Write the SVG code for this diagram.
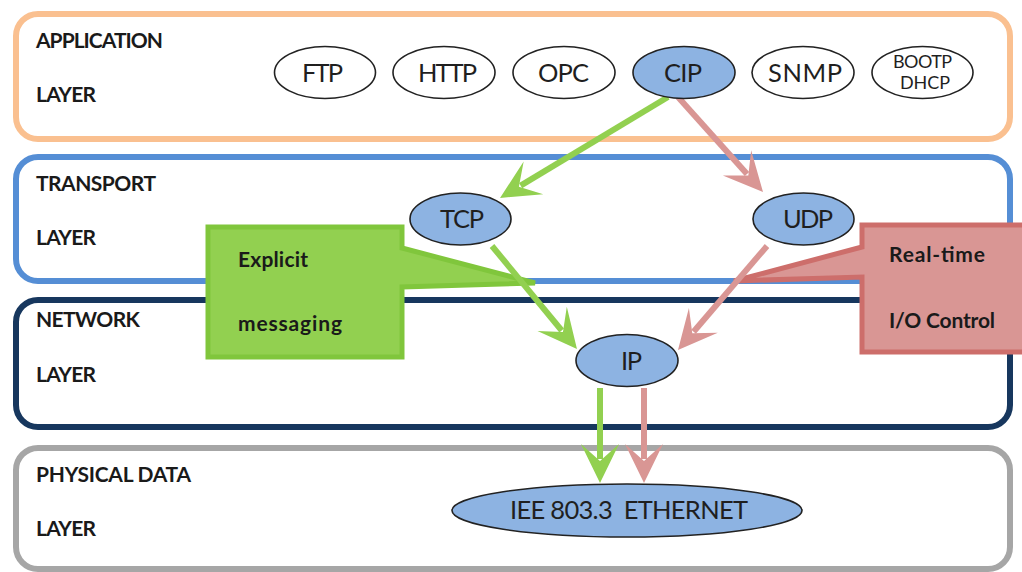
<svg xmlns="http://www.w3.org/2000/svg" width="1022" height="572" viewBox="0 0 1022 572">
  <style>
    .layer { fill: #ffffff; stroke-width: 6; }
    .lbl { font-family: Lato, "Liberation Sans", sans-serif; font-weight: 700; font-size: 21px; fill: #1a1a1a; }
    .proto { stroke: #222222; stroke-width: 1.6; }
    .plain { fill: #ffffff; }
    .blue { fill: #8DB3E2; }
    .ptxt { font-family: Lato, "Liberation Sans", sans-serif; font-size: 25.5px; fill: #1f1f1f; }
    .small { font-size: 18px; }
    .g { stroke: #92D050; stroke-width: 6; fill: none; marker-end: url(#headG); }
    .r { stroke: #D99694; stroke-width: 6; fill: none; marker-end: url(#headR); }
  </style>
  <defs>
    <marker id="headG" viewBox="-20 -22 50 44" refX="0" refY="0" markerWidth="50" markerHeight="44" markerUnits="userSpaceOnUse" orient="auto">
      <path d="M24,0 L-15,-19 L2,0 L-15,19 Z" fill="#92D050"/>
    </marker>
    <marker id="headR" viewBox="-20 -22 50 44" refX="0" refY="0" markerWidth="50" markerHeight="44" markerUnits="userSpaceOnUse" orient="auto">
      <path d="M24,0 L-15,-19 L2,0 L-15,19 Z" fill="#D99694"/>
    </marker>
  </defs>

  <!-- layer bands -->
  <g id="layer-application">
    <rect class="layer" x="16" y="14" width="994" height="125" rx="22" stroke="#FAC090"/>
    <text class="lbl" x="36" y="48" textLength="127">APPLICATION</text>
    <text class="lbl" x="36" y="102" textLength="60">LAYER</text>
  </g>
  <g id="layer-transport">
    <rect class="layer" x="16" y="157" width="994" height="124" rx="22" stroke="#558ED5"/>
    <text class="lbl" x="36" y="191" textLength="120">TRANSPORT</text>
    <text class="lbl" x="36" y="245" textLength="60">LAYER</text>
  </g>
  <g id="layer-network">
    <rect class="layer" x="16" y="300" width="994" height="127" rx="22" stroke="#17375E"/>
    <text class="lbl" x="36" y="327" textLength="104">NETWORK</text>
    <text class="lbl" x="36" y="382" textLength="60">LAYER</text>
  </g>
  <g id="layer-physical">
    <rect class="layer" x="16" y="448" width="994" height="121" rx="22" stroke="#A6A6A6" stroke-width="5"/>
    <text class="lbl" x="36" y="482" textLength="155">PHYSICAL DATA</text>
    <text class="lbl" x="36" y="536" textLength="60">LAYER</text>
  </g>

  <!-- callouts -->
  <g id="callout-explicit">
    <path d="M208,227 H402 V248 L535,283 L402,287 V357 H208 Z" fill="#92D050" stroke="#80C63C" stroke-width="5" stroke-linejoin="miter"/>
    <text class="lbl" x="238" y="267" textLength="70">Explicit</text>
    <text class="lbl" x="238" y="331" textLength="104">messaging</text>
  </g>
  <g id="callout-realtime">
    <path d="M862,225 H1032 V352 H862 V277 L734,281 L862,247 Z" fill="#D99694" stroke="#CD6E6B" stroke-width="5"/>
    <text class="lbl" x="889" y="262" textLength="96">Real-time</text>
    <text class="lbl" x="889" y="328" textLength="106">I/O Control</text>
  </g>

  <!-- connectors -->
  <g id="connectors">
    <line class="g" x1="668" y1="97" x2="520.6" y2="185.6"/>
    <line class="r" x1="678" y1="97" x2="747" y2="174.1"/>
    <line class="g" x1="492" y1="246" x2="561.7" y2="330.5"/>
    <line class="r" x1="767" y1="246" x2="693.6" y2="331.8"/>
    <line class="g" x1="600" y1="388" x2="600" y2="459"/>
    <line class="r" x1="644" y1="388" x2="644" y2="459"/>
  </g>

  <!-- protocol nodes -->
  <g id="node-ftp">
    <ellipse class="proto plain" cx="325" cy="72.5" rx="50.5" ry="26"/>
    <text class="ptxt" x="302" y="82" textLength="41">FTP</text>
  </g>
  <g id="node-http">
    <ellipse class="proto plain" cx="444" cy="72.5" rx="51" ry="26"/>
    <text class="ptxt" x="418" y="82" textLength="59">HTTP</text>
  </g>
  <g id="node-opc">
    <ellipse class="proto plain" cx="564" cy="72.5" rx="51" ry="26"/>
    <text class="ptxt" x="538" y="82" textLength="51">OPC</text>
  </g>
  <g id="node-cip">
    <ellipse class="proto blue" cx="684" cy="72.5" rx="51" ry="26"/>
    <text class="ptxt" x="664" y="82" textLength="38">CIP</text>
  </g>
  <g id="node-snmp">
    <ellipse class="proto plain" cx="803" cy="72.5" rx="51" ry="26"/>
    <text class="ptxt" x="768" y="82" textLength="74">SNMP</text>
  </g>
  <g id="node-bootp">
    <ellipse class="proto plain" cx="922.5" cy="72.5" rx="50.5" ry="26"/>
    <text class="ptxt small" x="893" y="68" textLength="59">BOOTP</text>
    <text class="ptxt small" x="900" y="89" textLength="50">DHCP</text>
  </g>
  <g id="node-tcp">
    <ellipse class="proto blue" cx="460.5" cy="219" rx="50.5" ry="26"/>
    <text class="ptxt" x="440" y="228" textLength="44">TCP</text>
  </g>
  <g id="node-udp">
    <ellipse class="proto blue" cx="803.5" cy="219" rx="50.5" ry="26"/>
    <text class="ptxt" x="783" y="228" textLength="50">UDP</text>
  </g>
  <g id="node-ip">
    <ellipse class="proto blue" cx="627" cy="360.5" rx="51" ry="26"/>
    <text class="ptxt" x="621" y="370" textLength="21">IP</text>
  </g>
  <g id="node-ethernet">
    <ellipse class="proto blue" cx="627" cy="510.5" rx="175" ry="26.5"/>
    <text class="ptxt" x="510" y="519" textLength="238" xml:space="preserve">IEE 803.3  ETHERNET</text>
  </g>
</svg>
